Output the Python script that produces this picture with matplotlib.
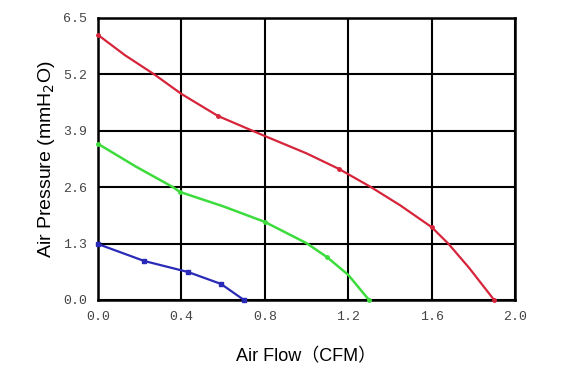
import numpy as np
import matplotlib.pyplot as plt

# fan P-Q curves
red_flow = [0.0, 0.13, 0.27, 0.40, 0.576, 0.80, 1.00, 1.156, 1.31, 1.45, 1.60, 1.68, 1.78, 1.90]
red_pres = [6.11, 5.64, 5.20, 4.75, 4.24, 3.78, 3.38, 3.02, 2.60, 2.18, 1.68, 1.30, 0.74, 0.0]
red_mark_flow = [0.0, 0.576, 1.156, 1.60, 1.90]
red_mark_pres = [6.11, 4.24, 3.02, 1.68, 0.0]

green_flow = [0.0, 0.18, 0.36, 0.393, 0.60, 0.80, 1.00, 1.098, 1.20, 1.30]
green_pres = [3.60, 3.08, 2.60, 2.49, 2.16, 1.80, 1.31, 0.99, 0.58, 0.0]
green_mark_flow = [0.0, 0.393, 0.80, 1.098, 1.30]
green_mark_pres = [3.60, 2.49, 1.80, 0.99, 0.0]

blue_flow = [0.0, 0.221, 0.432, 0.59, 0.70]
blue_pres = [1.29, 0.90, 0.645, 0.37, 0.0]

xticks = [0.0, 0.4, 0.8, 1.2, 1.6, 2.0]
yticks = [0.0, 1.3, 2.6, 3.9, 5.2, 6.5]

fig = plt.figure(figsize=(5.69, 3.79), dpi=100)
ax = fig.add_axes([98/569, 1 - 300/379, 417/569, 282/379])

ax.plot(red_flow, red_pres, color='#d6243a', lw=1.6, zorder=3)
ax.plot(red_mark_flow, red_mark_pres, 'o', color='#d6243a', ms=2.5, zorder=4, clip_on=False)
ax.plot(green_flow, green_pres, color='#3ddc3d', lw=1.8, zorder=3)
ax.plot(green_mark_flow, green_mark_pres, 'o', color='#3ddc3d', ms=2.5, zorder=4, clip_on=False)
ax.plot(blue_flow, blue_pres, color='#2a2ab8', lw=1.6, zorder=3)
ax.plot(blue_flow, blue_pres, 's', color='#2a2ab8', ms=3.5, zorder=4, clip_on=False)

ax.set_xlim(0, 2.0)
ax.set_ylim(0, 6.5)
ax.set_xticks(xticks)
ax.set_yticks(yticks)
ax.set_xticklabels([f"{v:.1f}" for v in xticks], family='Liberation Mono', fontsize=9.5, color='#444444')
ax.set_yticklabels([f"{v:.1f}" for v in yticks], family='Liberation Mono', fontsize=9.5, color='#444444')
ax.tick_params(length=0, pad=8)
ax.grid(True, color='black', lw=1.5)
ax.set_axisbelow(True)
for s in ax.spines.values():
    s.set_linewidth(1.8)

ax.set_xlabel("Air Flow（CFM）", family=['Liberation Sans', 'Noto Sans CJK SC'], fontsize=13, labelpad=18)
ax.set_ylabel("Air Pressure (mmH$_2$O)", family='Liberation Sans', fontsize=14, labelpad=4)

fig.savefig("out.png", dpi=100)
